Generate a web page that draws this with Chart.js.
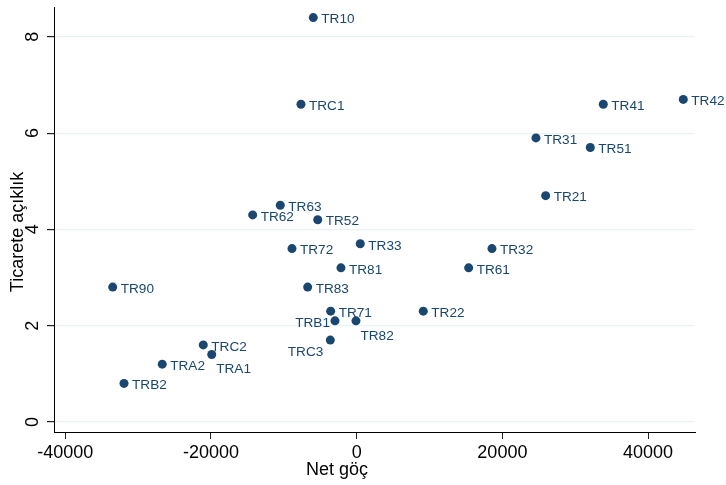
<!DOCTYPE html>
<html>
<head>
<meta charset="utf-8">
<script src="https://cdn.jsdelivr.net/npm/chart.js@4.4.0/dist/chart.umd.min.js"></script>
<style>
  html, body { margin: 0; padding: 0; background: #fff; }
  #wrap { width: 726px; height: 485px; }
</style>
</head>
<body>
<div id="wrap"><canvas id="chart"></canvas></div>
<script>
//------------------ Data ------------------//
const regions = ['TR10', 'TRC1', 'TR41', 'TR42', 'TR31', 'TR51', 'TR21', 'TR63', 'TR62',
  'TR52', 'TR72', 'TR33', 'TR32', 'TR81', 'TR61', 'TR90', 'TR83', 'TR71', 'TR22',
  'TRB1', 'TR82', 'TRC3', 'TRC2', 'TRA1', 'TRA2', 'TRB2'];
const netGoc = [-5960, -7650, 33850, 44830, 24610, 32070, 25940, -10490, -14280,
  -5350, -8880, 490, 18570, -2160, 15370, -33490, -6730, -3570, 9140,
  -2980, -100, -3620, -21060, -19900, -26690, -31940];
const ticaret = [8.4, 6.6, 6.6, 6.7, 5.9, 5.7, 4.7, 4.5, 4.3,
  4.2, 3.6, 3.7, 3.6, 3.2, 3.2, 2.8, 2.8, 2.3, 2.3,
  2.1, 2.1, 1.7, 1.6, 1.4, 1.2, 0.8];
const xTicks = [-40000, -20000, 0, 20000, 40000];
const yTicks = [0, 2, 4, 6, 8];

// label clock positions that differ from the default 3 o'clock
const labelClock = { TRB1: 9, TRC3: 7, TR82: 5, TRA1: 5 };

const FONT = '"Liberation Sans", Arial, Helvetica, sans-serif';
const NAVY = '#1a476f';

//------------------ Custom drawing ------------------//
const labelPlugin = {
  id: 'stataLabels',
  afterDatasetsDraw(chart) {
    const ctx = chart.ctx;
    const meta = chart.getDatasetMeta(0);
    ctx.save();
    ctx.font = '13.6px ' + FONT;
    ctx.fillStyle = NAVY;
    ctx.textBaseline = 'middle';
    meta.data.forEach((pt, i) => {
      const name = regions[i];
      const clock = labelClock[name] || 3;
      let dx = 8, dy = 2, align = 'left';
      if (clock === 9) { dx = -5; dy = 2; align = 'right'; }
      if (clock === 7) { dx = -7; dy = 12; align = 'right'; }
      if (clock === 5) { dx = 4.5; dy = 15; align = 'left'; }
      ctx.textAlign = align;
      ctx.fillText(name, pt.x + dx, pt.y + dy);
    });
    ctx.restore();
  },
  afterDraw(chart) {
    const ctx = chart.ctx;
    const ys = chart.scales.y;
    ctx.save();
    ctx.fillStyle = '#000';
    ctx.font = '18px ' + FONT;
    ctx.textAlign = 'center';
    ctx.textBaseline = 'middle';
    // rotated y tick labels
    yTicks.forEach(v => {
      const py = ys.getPixelForValue(v);
      ctx.save();
      ctx.translate(33, py);
      ctx.rotate(-Math.PI / 2);
      ctx.fillText(String(v), 0, 0);
      ctx.restore();
    });
    // axis titles
    ctx.fillText('Net göç', 337, 470);
    ctx.save();
    ctx.translate(18, 232);
    ctx.rotate(-Math.PI / 2);
    ctx.fillText('Ticarete açıklık', 0, 0);
    ctx.restore();
    ctx.restore();
  }
};

//------------------ Chart ------------------//
const points = netGoc.map((x, i) => ({ x: x, y: ticaret[i] }));

const ctx = document.getElementById('chart').getContext('2d');
const chart = new Chart(ctx, {
  type: 'scatter',
  data: {
    datasets: [{
      data: points,
      backgroundColor: NAVY,
      borderWidth: 0,
      pointRadius: 4.5,
      pointHoverRadius: 4.5
    }]
  },
  options: {
    responsive: true,
    maintainAspectRatio: false,
    animation: false,
    devicePixelRatio: 1,
    layout: { padding: { left: 0, right: 31, top: 7, bottom: 0 } },
    plugins: { legend: { display: false }, tooltip: { enabled: false } },
    scales: {
      x: {
        type: 'linear',
        min: -41550,
        max: 46440,
        afterBuildTicks: s => { s.ticks = xTicks.map(v => ({ value: v })); },
        afterFit: s => { s.height = 53; },
        grid: { drawOnChartArea: false, drawTicks: true, tickLength: 7, tickColor: '#222', lineWidth: 1 },
        border: { display: true, color: '#000', width: 1 },
        ticks: { color: '#000', font: { family: FONT, size: 18 }, padding: 3, maxRotation: 0, autoSkip: false,
          callback: v => String(v) }
      },
      y: {
        type: 'linear',
        min: -0.21,
        max: 8.62,
        afterBuildTicks: s => { s.ticks = yTicks.map(v => ({ value: v })); },
        afterFit: s => { s.width = 54; },
        grid: { color: '#eaf2f3', lineWidth: 1.2, drawTicks: true, tickLength: 7, tickColor: '#222' },
        border: { display: true, color: '#000', width: 1 },
        ticks: { display: false }
      }
    }
  },
  plugins: [labelPlugin]
});
</script>
</body>
</html>
